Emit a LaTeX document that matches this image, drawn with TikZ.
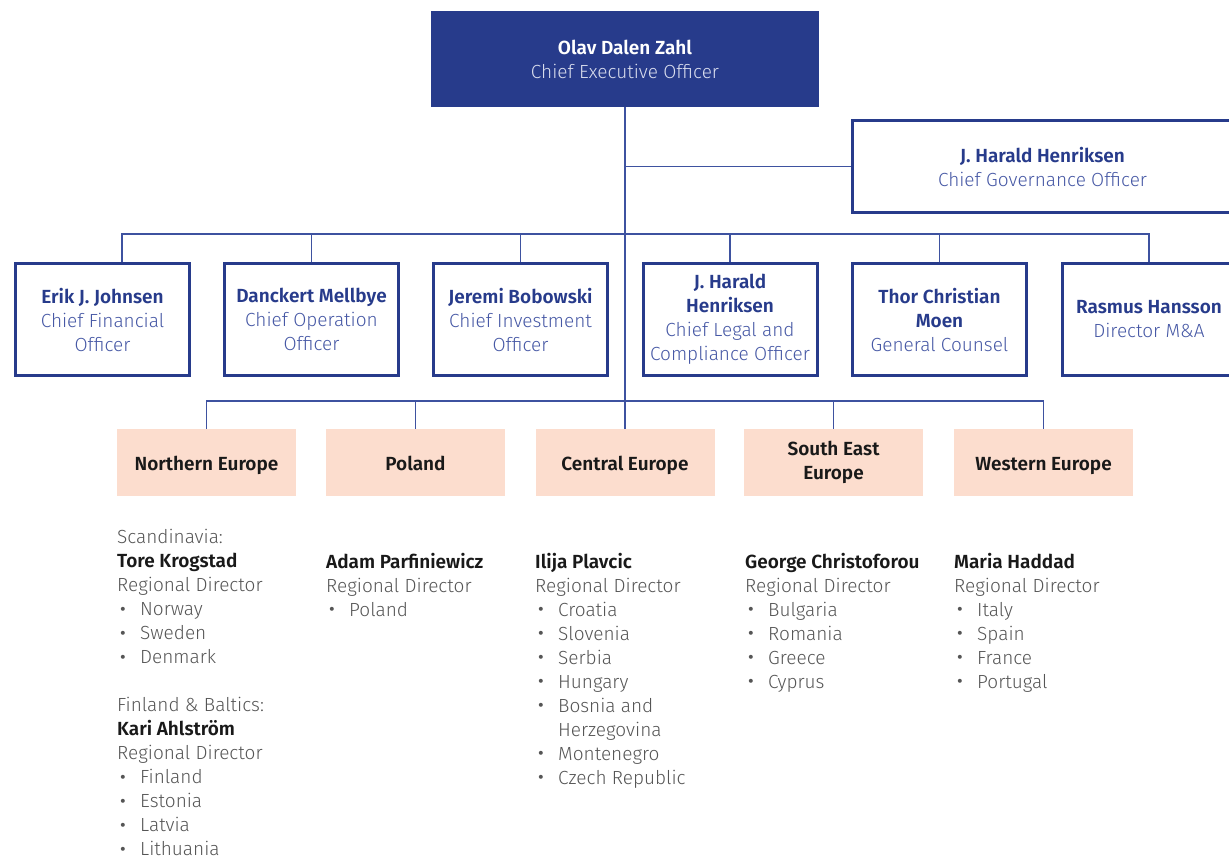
\documentclass[tikz,border=0pt]{standalone}
\usepackage{fontspec}
\setmainfont{Fira Sans}[UprightFont={* Light}, BoldFont={* SemiBold}]
\usetikzlibrary{positioning}

\definecolor{zahlblue}{RGB}{39,59,139}
\definecolor{linkblue}{RGB}{62,82,160}
\definecolor{titleblue}{RGB}{70,88,165}
\definecolor{regionpeach}{RGB}{252,221,206}
\definecolor{listgrey}{RGB}{85,85,85}
\definecolor{namegrey}{RGB}{25,25,25}
\definecolor{ceotitle}{RGB}{218,222,238}

\newcommand\chartfont{\fontsize{19}{24}\selectfont}
\newcommand\itm{\hspace*{2pt}\makebox[21pt][l]{\raisebox{-2.5pt}{\scalebox{1.4}{\textbullet}}}}

\tikzset{
  ceobox/.style={fill=zahlblue, minimum width=388pt, minimum height=96pt, inner sep=0pt,
    align=center, font=\chartfont, text=ceotitle,
    execute at begin node={\rule{0pt}{16pt}}},
  execbox/.style={draw=zahlblue, line width=3pt, fill=white, minimum width=174pt,
    minimum height=112pt, inner sep=0pt, align=center, font=\chartfont, text=titleblue},
  regionbox/.style={fill=regionpeach, minimum width=179pt, minimum height=67pt, inner sep=0pt,
    align=center, font=\chartfont\bfseries, text=namegrey,
    execute at begin node={\rule[-4pt]{0pt}{24pt}}},
  listtext/.style={anchor=north west, inner sep=0pt, align=left, font=\chartfont, text=listgrey},
  linkline/.style={draw=linkblue, line width=1.5pt}
}
\newcommand\who[1]{\textcolor{zahlblue}{\textbf{#1}}}
\newcommand\rname[1]{\textcolor{namegrey}{\textbf{#1}}}

\begin{document}
\begin{tikzpicture}[x=1pt,y=1pt,yscale=-1,xscale=1]
\useasboundingbox (0,0) rectangle (1229,861);

%Shape: Rectangle [ceo]
\node[ceobox] (ceo) at (625,59) {\textcolor{white}{\textbf{Olav Dalen Zahl}}\\Chief Executive Officer};
%Shape: Rectangle [governance]
\node[execbox, minimum width=380pt, minimum height=92pt] (cgo) at (1042.5,166.5) {\who{J. Harald Henriksen}\\Chief Governance Officer};

%Shape: Rectangle [executives]
\node[execbox] (cfo) at (102.5,319.5) {\who{Erik J. Johnsen}\\Chief Financial\\Officer};
\node[execbox] (coo) at (311.5,319.5) {\who{Danckert Mellbye}\\Chief Operation\\Officer};
\node[execbox] (cio) at (520.5,319.5) {\who{Jeremi Bobowski}\\Chief Investment\\Officer};
\node[execbox] (clo) at (730,319.5) {\who{J. Harald}\\\who{Henriksen}\\Chief Legal and\\Compliance Officer};
\node[execbox] (gc) at (939.5,319.5) {\who{Thor Christian}\\\who{Moen}\\General Counsel};
\node[execbox] (mna) at (1149,319.5) {\who{Rasmus Hansson}\\Director M\&A};

%Shape: Rectangle [regions]
\node[regionbox] (ne) at (206.5,462.5) {Northern Europe};
\node[regionbox] (pl) at (415.5,462.5) {Poland};
\node[regionbox] (ce) at (625,462.5) {Central Europe};
\node[regionbox] (see) at (833.5,462.5) {South East\\Europe};
\node[regionbox] (we) at (1043.5,462.5) {Western Europe};

%Straight Lines [links]
\coordinate (execbar) at (0,234);
\coordinate (regionbar) at (0,401);
\coordinate (cfodrop) at (122,262);
\draw[linkline] (ceo.south) -- (ceo.south |- ce.north);
\draw[linkline] (ceo.south |- cgo.west) -- (cgo.west);
\draw[linkline] (cfodrop) |- (execbar -| mna.north) -- (mna.north);
\foreach \n in {coo,cio,clo,gc}
  \draw[linkline] (\n.north) -- (\n.north |- execbar);
\draw[linkline] (ne.north) |- (regionbar -| we.north) -- (we.north);
\foreach \n in {pl,see}
  \draw[linkline] (\n.north) -- (\n.north |- regionbar);

% Text Node
\node[listtext] (nelist) at (117,529) {Scandinavia:\\\rname{Tore Krogstad}\\Regional Director\\\itm Norway\\\itm Sweden\\\itm Denmark\\[24pt]Finland \& Baltics:\\\rname{Kari Ahlström}\\Regional Director\\\itm Finland\\\itm Estonia\\\itm Latvia\\\itm Lithuania};
% Text Node
\node[listtext] (pllist) at (326,553) {\rname{Adam Parfiniewicz}\\Regional Director\\\itm Poland};
% Text Node
\node[listtext] (celist) at (535,553) {\rname{Ilija Plavcic}\\Regional Director\\\itm Croatia\\\itm Slovenia\\\itm Serbia\\\itm Hungary\\\itm Bosnia and\\\hspace*{23pt}Herzegovina\\\itm Montenegro\\\itm Czech Republic};
% Text Node
\node[listtext] (seelist) at (745,553) {\rname{George Christoforou}\\Regional Director\\\itm Bulgaria\\\itm Romania\\\itm Greece\\\itm Cyprus};
% Text Node
\node[listtext] (welist) at (954,553) {\rname{Maria Haddad}\\Regional Director\\\itm Italy\\\itm Spain\\\itm France\\\itm Portugal};

\end{tikzpicture}
\end{document}
